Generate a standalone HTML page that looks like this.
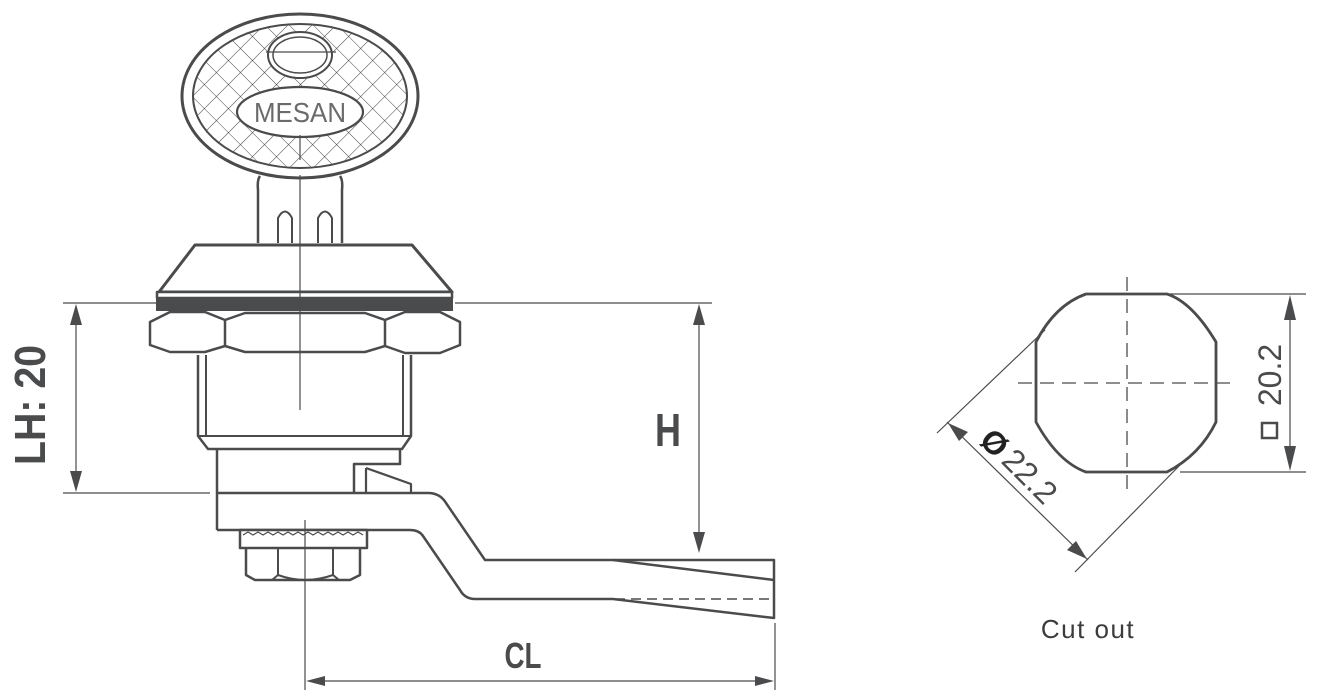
<!DOCTYPE html>
<html><head><meta charset="utf-8"><style>
html,body{margin:0;padding:0;background:#fff;}
svg{display:block;}
.b{font-family:"Liberation Sans",sans-serif;font-weight:bold;fill:#4a4b4d;}
</style></head><body>
<svg width="1320" height="698" viewBox="0 0 1320 698" xmlns="http://www.w3.org/2000/svg">
<defs>
<pattern id="h" width="17" height="17" patternUnits="userSpaceOnUse" patternTransform="rotate(45)">
<path d="M0 0H17M0 0V17" stroke="#4a4b4d" stroke-width="1.1"/>
</pattern>
<clipPath id="ce"><ellipse cx="300" cy="96" rx="107" ry="72"/></clipPath>
</defs>
<g fill="none" stroke="#4a4b4d" stroke-width="2.5" stroke-linejoin="round">
<ellipse cx="300" cy="96" rx="118" ry="82" stroke-width="3"/>
<rect x="180" y="20" width="240" height="160" fill="url(#h)" clip-path="url(#ce)" stroke="none"/>
<ellipse cx="300" cy="96" rx="107" ry="72" stroke-width="2"/>
<ellipse cx="300" cy="55" rx="32" ry="23" fill="#fff" stroke-width="2"/>
<ellipse cx="300" cy="55" rx="27" ry="18" stroke-width="1.5"/>
<line x1="266" y1="52" x2="336" y2="52" stroke-width="1.2"/>
<ellipse cx="300" cy="112" rx="63" ry="25" fill="#fff" stroke-width="2.2"/>
<path d="M260 176 Q257 180 258 190 V243 M340 176 Q343 180 342 190 V243" />
<path d="M278 243 V218 Q285 205 292 218 V243 M318 243 V218 Q325 205 332 218 V243" stroke-width="2"/>
<path d="M195 245 H412 L452 292 H159 Z" fill="#fff" stroke-width="3"/>
<rect x="157" y="292" width="295" height="6" fill="#fff"/>
<rect x="156" y="298" width="297" height="13" fill="#4a4b4d" stroke="none"/>
<path d="M150 322 L170 312 H205 L225 320 L245 313 H365 L385 320 L405 312 H440 L460 322 V345 L440 353 H405 L385 346 L365 352 H245 L225 346 L205 352 H170 L150 345 Z" fill="#fff"/>
<line x1="225" y1="320" x2="225" y2="346"/>
<line x1="385" y1="320" x2="385" y2="346"/>
<path d="M198 355 V436 L208 449 H402 L411 436 V355" />
<path d="M206 355 V436 M403 355 V436 M198 436 H411" stroke-width="2"/>
<path d="M217 449 V530 M400 449 V464 H354 V493"/>
<path d="M366 468 V493 M366 468 L411 484 V493" stroke-width="2.2"/>
<path d="M217 493 H428 Q440 493 446 503 L485 560 H774 V618 L613 599 H475 Q465 599 460 590 L423 536 Q419 530 410 530 H217"/>
<path d="M613 560 L774 580" />
<path d="M615 599 H774" stroke-width="1.5" stroke-dasharray="10,6"/>
<rect x="240" y="530" width="127" height="18" fill="#fff"/>
<path d="M243 535 l5 -3 l5 3 l5 -3 l5 3 l5 -3 l5 3 l5 -3 l5 3 l5 -3 l5 3 l5 -3 l5 3 l5 -3 l5 3 l5 -3 l5 3 l5 -3 l5 3 l5 -3 l5 3 l5 -3 l5 3 l5 -3 l5 3" stroke-width="1.2"/>
<path d="M246 548 V575 L255 580 H350 L360 575 V548"/>
<path d="M278 548 V575 L272 580 M333 548 V575 L339 580 M278 575 Q305 585 333 575" stroke-width="2"/>
</g>
<g stroke="#4a4b4d" stroke-width="1.2" fill="none">
<line x1="300" y1="135" x2="300" y2="160"/>
<line x1="300" y1="175" x2="300" y2="410"/>
<line x1="305" y1="520" x2="305" y2="690"/>
<line x1="63" y1="303" x2="157" y2="303"/>
<line x1="63" y1="493" x2="210" y2="493"/>
<line x1="76" y1="320" x2="76" y2="476"/>
<line x1="455" y1="303" x2="712" y2="303"/>
<line x1="699" y1="320" x2="699" y2="535"/>
<line x1="775" y1="623" x2="775" y2="690"/>
<line x1="320" y1="681" x2="760" y2="681"/>
</g>
<g fill="#4a4b4d">
<path d="M76 304 L70 325 H82 Z"/><path d="M76 492 L70 471 H82 Z"/>
<path d="M699 304 L693 325 H705 Z"/><path d="M699 553 L693 532 H705 Z"/>
<path d="M306 681 L325 676 V686 Z"/><path d="M774 681 L755 676 V686 Z"/>
</g>
<text x="300" y="122" font-family="Liberation Sans,sans-serif" font-size="28" fill="#6a6b6d" text-anchor="middle" textLength="92" lengthAdjust="spacingAndGlyphs">MESAN</text>
<text class="b" transform="translate(45,405) rotate(-90)" font-size="44" text-anchor="middle" textLength="120" lengthAdjust="spacingAndGlyphs">LH: 20</text>
<text class="b" x="668" y="446" font-size="46" text-anchor="middle" textLength="26" lengthAdjust="spacingAndGlyphs">H</text>
<text class="b" x="523" y="668" font-size="36" text-anchor="middle" textLength="37" lengthAdjust="spacingAndGlyphs">CL</text>
<g fill="none" stroke="#4a4b4d">
<path d="M1086 294 H1167 Q1192 302 1216 342 V422 Q1200 455 1167 472 H1086 Q1058 462 1036 422 V342 Q1055 305 1086 294 Z" stroke-width="2.8"/>
<line x1="1127" y1="277" x2="1127" y2="490" stroke-width="1.3" stroke-dasharray="14,8"/>
<line x1="1018" y1="383" x2="1236" y2="383" stroke-width="1.3" stroke-dasharray="14,8"/>
<g stroke-width="1.2">
<line x1="1170" y1="294" x2="1306" y2="294"/>
<line x1="1180" y1="472" x2="1306" y2="472"/>
<line x1="1290" y1="312" x2="1290" y2="454"/>
<line x1="937" y1="433" x2="1045" y2="330"/>
<line x1="1075" y1="572" x2="1180" y2="465"/>
<line x1="947" y1="422" x2="1088" y2="560"/>
</g>
<rect x="1262" y="423" width="15" height="15" stroke-width="2.5"/>
</g>
<g fill="#4a4b4d">
<path d="M1290 295 L1284 320 H1296 Z"/><path d="M1290 471 L1284 446 H1296 Z"/>
<path d="M948 423 L968 432 L959 441 Z"/><path d="M1087 559 L1067 550 L1076 541 Z"/>
</g>
<text transform="translate(1281,375) rotate(-90)" font-family="Liberation Sans,sans-serif" font-size="32" fill="#4a4b4d" text-anchor="middle">20.2</text>
<text transform="translate(978,442) rotate(45)" font-family="Liberation Sans,sans-serif" font-size="32" fill="#222" font-weight="bold">Ø</text>
<text transform="translate(1000,462) rotate(45)" font-family="Liberation Sans,sans-serif" font-size="32" fill="#4a4b4d">22.2</text>
<text x="1088" y="638" font-family="Liberation Sans,sans-serif" font-size="26" fill="#3a3b3d" text-anchor="middle" letter-spacing="1.5">Cut out</text>
</svg>
</body></html>
